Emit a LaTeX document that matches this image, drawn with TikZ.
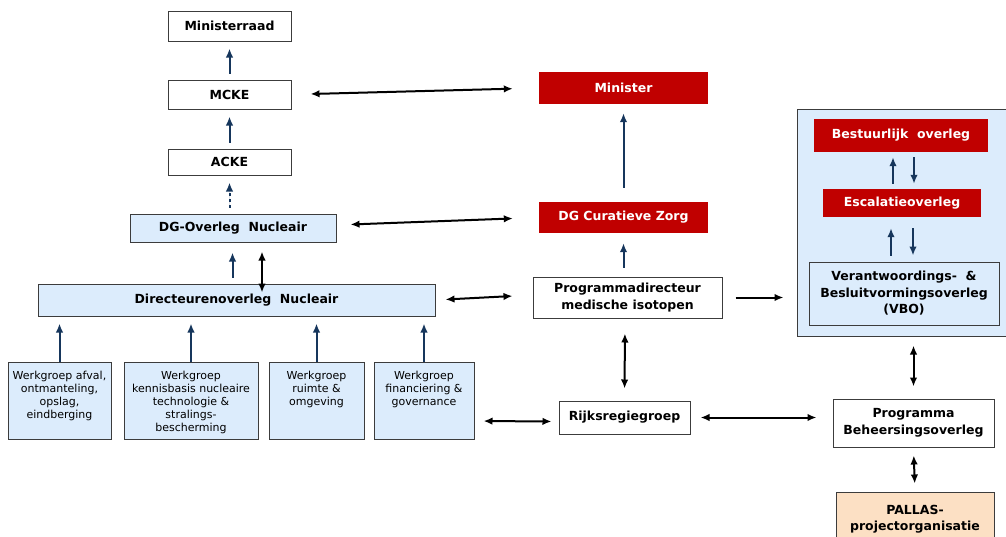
\documentclass[tikz,border=0pt]{standalone}
\usepackage{fontspec}
\setmainfont{DejaVu Sans}
\usepackage{tikz}
\usetikzlibrary{calc}
\usetikzlibrary{arrows.meta}
\definecolor{lichtblauw}{RGB}{220,236,252}
\definecolor{rood}{RGB}{192,0,0}
\definecolor{perzik}{RGB}{252,224,196}
\definecolor{donkerblauw}{RGB}{22,54,92}
\definecolor{rand}{RGB}{60,60,60}
\newcommand{\wgtekst}[2]{\parbox[t][71pt][t]{#1}{\vspace*{6pt}\centering #2}}

\begin{document}
\begin{tikzpicture}[x=1pt,y=-1pt,>={Latex[length=9pt,width=7.5pt]},
    doos/.style={draw=rand,line width=1pt,fill=white,align=center,inner sep=2pt,
        font=\fontsize{12.5}{16.5}\selectfont\bfseries},
    blauw/.style={doos,fill=lichtblauw},
    rood/.style={fill=rood,text=white,align=center,inner sep=2pt,
        font=\fontsize{12.5}{16.5}\selectfont\bfseries},
    wg/.style={draw=rand,line width=1pt,fill=lichtblauw,inner sep=3pt,
        font=\fontsize{11}{13}\selectfont},
    omhoog/.style={->,draw=donkerblauw,fill=donkerblauw,line width=2pt},
    beide/.style={<->,line width=2pt}]
    \useasboundingbox (0,0) rectangle (1006,536);

    % 左の列
    \node[doos,minimum width=123pt,minimum height=30pt] (mr) at (229.5,26) {Ministerraad};
    \node[doos,minimum width=123pt,minimum height=29pt] (mcke) at (229.5,94.5) {MCKE};
    \node[doos,minimum width=123pt,minimum height=26pt] (acke) at (229.5,162) {ACKE};
    \node[blauw,minimum width=206pt,minimum height=28pt] (dgo) at (233,228) {DG-Overleg\ \ Nucleair};
    \node[blauw,minimum width=397pt,minimum height=32pt] (dir) at (236.5,300) {Directeurenoverleg\ \ Nucleair};

    % 作業部会
    \node[wg,anchor=north] (wg1) at (59.5,362) {\wgtekst{97pt}{Werkgroep afval,\\ontmanteling,\\opslag,\\eindberging}};
    \node[wg,anchor=north] (wg2) at (191,362) {\wgtekst{128pt}{Werkgroep\\kennisbasis nucleaire\\technologie \&\\stralings-\\bescherming}};
    \node[wg,anchor=north] (wg3) at (316.5,362) {\wgtekst{89pt}{Werkgroep\\ruimte \&\\omgeving}};
    \node[wg,anchor=north] (wg4) at (424,362) {\wgtekst{94pt}{Werkgroep\\financiering \&\\governance}};

    % 中央の列
    \node[rood,minimum width=169pt,minimum height=32pt] (min) at (623.5,88) {Minister};
    \node[rood,minimum width=169pt,minimum height=31pt] (dgcz) at (623.5,217.5) {DG Curatieve Zorg};
    \node[doos,minimum width=189pt,minimum height=41pt] (prog) at (627.5,297.5) {Programmadirecteur\\medische isotopen};
    \node[doos,minimum width=131pt,minimum height=33pt] (rijks) at (624.5,417.5) {Rijksregiegroep};

    % 右の列
    \node[draw=rand,line width=1pt,fill=lichtblauw,minimum width=213pt,minimum height=227pt] (kader) at (903.5,222.5) {};
    \node[rood,minimum width=174pt,minimum height=33pt] (best) at (901,135.5) {Bestuurlijk\ \ overleg};
    \node[rood,minimum width=158pt,minimum height=28pt] (esc) at (902,203) {Escalatieoverleg};
    \node[blauw,minimum width=190pt,minimum height=63pt] (vbo) at (904,293.5) {Verantwoordings-\ \ \&\\Besluitvormingsoverleg\\(VBO)};
    \node[doos,minimum width=161pt,minimum height=48pt] (pbo) at (913.5,423) {Programma\\Beheersingsoverleg};
    \node[doos,fill=perzik,minimum width=158pt,minimum height=54pt] (pallas) at (915,519) {PALLAS-\\projectorganisatie};

    % 上向きの矢印
    \draw[omhoog,shorten <=6pt,shorten >=7pt] (mcke.north) -- (mr.south);
    \draw[omhoog,shorten <=6pt,shorten >=7pt] (acke.north) -- (mcke.south);
    \draw[omhoog,dashed,shorten <=6pt,shorten >=7pt] (dgo.north -| acke.south) -- (acke.south);
    \draw[omhoog,shorten <=6pt,shorten >=10pt] ([xshift=-4pt]dir.north) -- ([xshift=-4pt]dir.north |- dgo.south);
    \draw[beide,shorten <=9pt,shorten >=-9pt] ([xshift=29pt]dgo.south) -- ([xshift=29pt]dgo.south |- dir.north);
    \foreach \w in {wg1,wg2,wg3,wg4}
        \draw[omhoog,shorten >=7pt] (\w.north) -- (\w.north |- dir.south);
    \draw[omhoog,shorten <=14pt,shorten >=9pt] (dgcz.north) -- (min.south);
    \draw[omhoog,shorten <=9pt,shorten >=10pt] (prog.north -| dgcz.south) -- (dgcz.south);

    % 横の矢印
    \draw[beide,shorten <=19pt,shorten >=26pt] (mcke.east) -- (min.west);
    \draw[beide,shorten <=14pt,shorten >=26pt] ([yshift=3pt]dgo.east) -- (dgcz.west);
    \draw[beide,shorten <=10pt,shorten >=20pt] (dir.east) -- ([yshift=2.5pt]prog.west);
    \draw[beide,shorten <=9pt,shorten >=7pt] ([yshift=-20pt]wg4.east) -- ([yshift=-4pt]rijks.west);
    \draw[beide,shorten <=10pt,shorten >=16pt] (rijks.east) -- ([yshift=5.5pt]pbo.west);
    \draw[->,line width=2pt,shorten <=13pt,shorten >=13pt] (prog.east) -- (prog.east -| kader.west);
    \draw[beide,shorten <=15pt,shorten >=12pt] ([xshift=-2.5pt]prog.south) -- (rijks.north);

    % 右の枠の中
    \draw[omhoog,shorten <=5pt,shorten >=5pt] ([xshift=-9pt]esc.north) -- ([xshift=-9pt]esc.north |- best.south);
    \draw[omhoog,shorten <=5pt,shorten >=5pt] ([xshift=12pt]esc.north |- best.south) -- ([xshift=12pt]esc.north);
    \draw[omhoog,shorten <=6pt,shorten >=11pt] ([xshift=-11pt]esc.south |- vbo.north) -- ([xshift=-11pt]esc.south);
    \draw[omhoog,shorten <=11pt,shorten >=6pt] ([xshift=11pt]esc.south) -- ([xshift=11pt]esc.south |- vbo.north);
    \draw[beide,shorten <=9pt,shorten >=12pt] (kader.south -| pbo.north) -- (pbo.north);
    \draw[beide,shorten <=8pt,shorten >=8pt] (pbo.south) -- (pallas.north);
\end{tikzpicture}
\end{document}
